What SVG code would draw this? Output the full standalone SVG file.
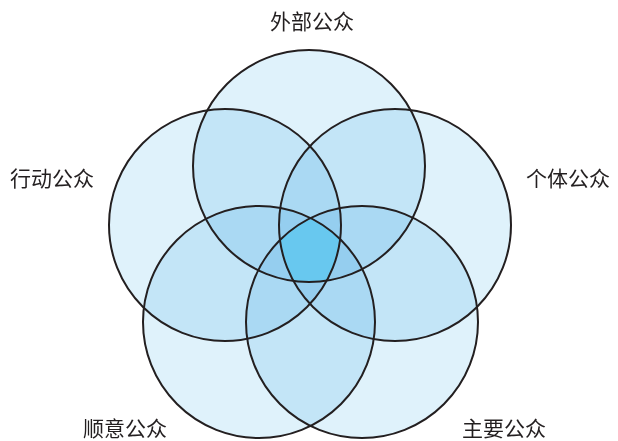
<svg xmlns="http://www.w3.org/2000/svg" width="618" height="441" viewBox="0 0 618 441">
<style>
.c{fill:#dff2fb;stroke:none;mix-blend-mode:multiply}
.o{fill:none;stroke:#231f20;stroke-width:2}
.t{font-family:"Noto Sans CJK SC","Noto Sans",sans-serif;font-size:21px;fill:#231f20}
</style>
<defs>
<clipPath id="k1"><circle cx="309" cy="166" r="116"/></clipPath>
<clipPath id="k2"><circle cx="225" cy="225" r="116"/></clipPath>
<clipPath id="k3"><circle cx="395" cy="225" r="116"/></clipPath>
<clipPath id="k4"><circle cx="259" cy="322" r="116"/></clipPath>
</defs>
<rect width="618" height="441" fill="#ffffff"/>
<g id="fills" style="isolation:isolate">
<circle class="c" cx="309" cy="166" r="116"/>
<circle class="c" cx="225" cy="225" r="116"/>
<circle class="c" cx="395" cy="225" r="116"/>
<circle class="c" cx="259" cy="322" r="116"/>
<circle class="c" cx="362" cy="322" r="116"/>
</g>
<g id="centre" clip-path="url(#k1)"><g clip-path="url(#k2)"><g clip-path="url(#k3)"><g clip-path="url(#k4)">
<circle cx="362" cy="322" r="116" fill="#68c8ef"/>
</g></g></g></g>
<g id="n1"><circle class="o" cx="309" cy="166" r="116"/><text class="t" x="312" y="29" text-anchor="middle">外部公众</text></g>
<g id="n2"><circle class="o" cx="225" cy="225" r="116"/><text class="t" x="10" y="186">行动公众</text></g>
<g id="n3"><circle class="o" cx="395" cy="225" r="116"/><text class="t" x="526" y="186">个体公众</text></g>
<g id="n4"><circle class="o" cx="259" cy="322" r="116"/><text class="t" x="83" y="436">顺意公众</text></g>
<g id="n5"><circle class="o" cx="362" cy="322" r="116"/><text class="t" x="462" y="436">主要公众</text></g>
<g id="connectors"/>
</svg>
